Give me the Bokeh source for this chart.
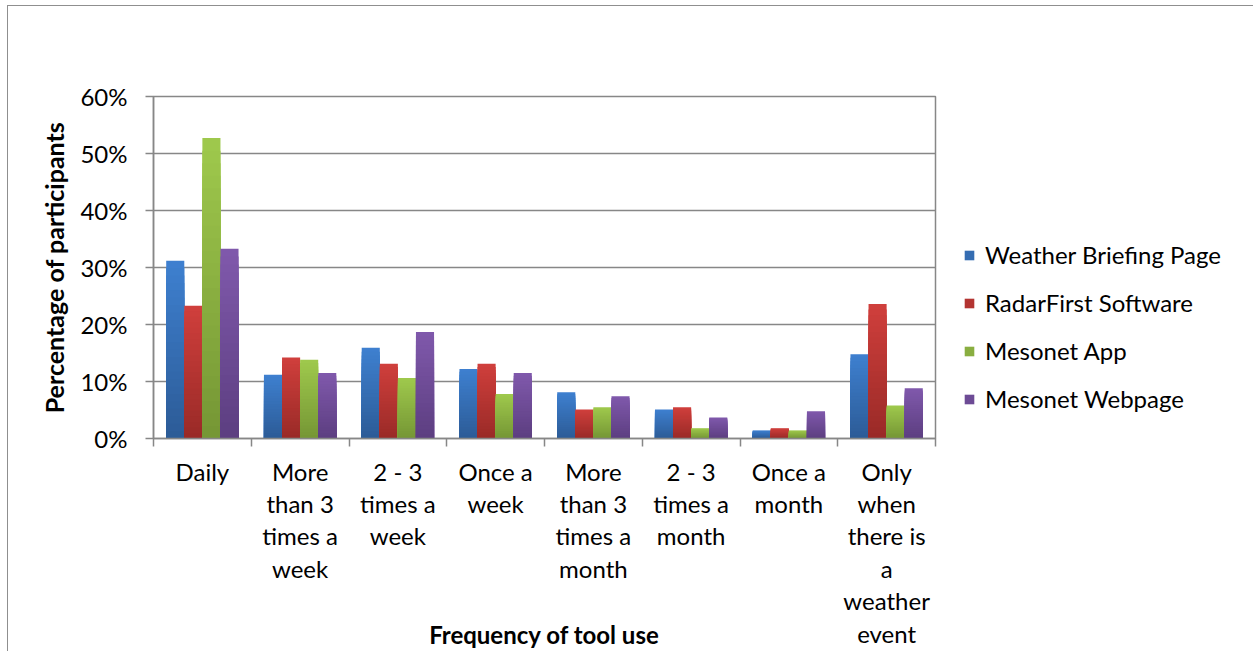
from bokeh.plotting import figure
from bokeh.models import (ColumnDataSource, FixedTicker, NumeralTickFormatter,
                          Legend, LegendItem, Range1d)
from bokeh.embed import file_html
from bokeh.resources import INLINE

# ---- data ----
categories = ["Daily", "More\nthan 3\ntimes a\nweek", "2 - 3\ntimes a\nweek",
              "Once a\nweek", "More\nthan 3\ntimes a\nmonth", "2 - 3\ntimes a\nmonth",
              "Once a\nmonth", "Only\nwhen\nthere is\na\nweather\nevent"]
series_names = ["Weather Briefing Page", "RadarFirst Software", "Mesonet App", "Mesonet Webpage"]
weather_briefing = [0.312, 0.112, 0.159, 0.122, 0.081, 0.051, 0.014, 0.148]
radarfirst = [0.233, 0.142, 0.131, 0.131, 0.051, 0.055, 0.018, 0.236]
mesonet_app = [0.527, 0.138, 0.106, 0.078, 0.055, 0.018, 0.014, 0.058]
mesonet_web = [0.333, 0.115, 0.187, 0.115, 0.074, 0.037, 0.048, 0.088]
y_ticks = [0, 0.1, 0.2, 0.3, 0.4, 0.5, 0.6]

series_values = [weather_briefing, radarfirst, mesonet_app, mesonet_web]
top_colors = ["#3E80D0", "#D03F3C", "#9FC94C", "#8059AC"]
bottom_colors = ["#2C5B96", "#992A27", "#759635", "#5C3E80"]

FONT = "Lato"
FS = "24px"
TITLE_FS = "25px"
TXT = "#000000"
GRAY = "#878787"

n_cat = len(categories)
p = figure(frame_width=782, frame_height=342, output_backend="svg", toolbar_location=None,
           x_range=Range1d(0, n_cat), y_range=Range1d(0, 0.6),
           min_border_left=145, min_border_top=90, min_border_bottom=205, min_border_right=300)
p.background_fill_color = "white"
p.border_fill_color = "white"
p.outline_line_color = GRAY
p.outline_line_width = 1.5
p.styles = {"margin-left": "7px", "margin-top": "5px",
            "border-top": "1px solid #8f8f8f", "border-left": "1px solid #8f8f8f"}

def hex2rgb(h):
    h = h.lstrip("#")
    return [int(h[i:i + 2], 16) for i in (0, 2, 4)]

def mix(c1, c2, t):
    a, b = hex2rgb(c1), hex2rgb(c2)
    return "#%02x%02x%02x" % tuple(int(round(a[i] + (b[i] - a[i]) * t)) for i in range(3))

N = 24
bar_w = 0.185
items = []
for s, (name, vals) in enumerate(zip(series_names, series_values)):
    off = (s - 1.5) * bar_w
    xs, tops, cols = [], [], []
    for i, v in enumerate(vals):
        # tallest (lightest) layer first, shorter darker layers on top -> vertical gradient
        for k in range(N):
            frac = (N - k) / N
            xs.append(i + 0.5 + off)
            tops.append(v * frac)
            cols.append(mix(bottom_colors[s], top_colors[s], frac - 0.5 / N))
    src = ColumnDataSource(dict(x=xs, top=tops, color=cols))
    r = p.vbar(x="x", bottom=0, top="top", width=bar_w, source=src,
               fill_color="color", line_color=None)
    items.append(LegendItem(label=name, renderers=[r], index=N // 2))

# axes
p.xgrid.visible = False
p.ygrid.grid_line_color = GRAY
p.ygrid.grid_line_width = 1.5
p.ygrid.ticker = FixedTicker(ticks=y_ticks)

yax = p.yaxis[0]
yax.ticker = FixedTicker(ticks=y_ticks, minor_ticks=[])
yax.formatter = NumeralTickFormatter(format="0%")
yax.axis_line_color = GRAY
yax.axis_line_width = 1.5
yax.major_tick_line_color = GRAY
yax.major_tick_line_width = 1.5
yax.major_tick_out = 8
yax.major_tick_in = 0
yax.minor_tick_line_color = None
yax.major_label_standoff = 18
yax.major_label_text_font = FONT
yax.major_label_text_font_size = FS
yax.major_label_text_color = TXT
yax.axis_label = "Percentage of participants"
yax.axis_label_text_font = FONT
yax.axis_label_text_font_size = TITLE_FS
yax.axis_label_text_font_style = "bold"
yax.axis_label_text_color = TXT
yax.axis_label_standoff = 8

xax = p.xaxis[0]
centers = [i + 0.5 for i in range(n_cat)]
xax.ticker = FixedTicker(ticks=centers, minor_ticks=list(range(n_cat + 1)))
xax.major_label_overrides = {c: lab for c, lab in zip(centers, categories)}
xax.axis_line_color = GRAY
xax.axis_line_width = 1.5
xax.major_tick_line_color = None
xax.major_tick_out = 0
xax.major_tick_in = 0
xax.minor_tick_line_color = GRAY
xax.minor_tick_line_width = 1.5
xax.minor_tick_out = 8
xax.minor_tick_in = 0
xax.major_label_standoff = 10
xax.major_label_text_font = FONT
xax.major_label_text_font_size = FS
xax.major_label_text_color = TXT
xax.major_label_text_line_height = 1.12
xax.major_label_orientation = "horizontal"
xax.axis_label = "Frequency of tool use"
xax.axis_label_text_font = FONT
xax.axis_label_text_font_size = FS
xax.axis_label_text_font_style = "bold"
xax.axis_label_text_color = TXT
xax.axis_label_standoff = -31

legend = Legend(items=items, location=(28, 25), orientation="vertical",
                label_text_font=FONT, label_text_font_size=FS, label_text_color=TXT,
                glyph_width=12, glyph_height=12, label_height=24, spacing=19,
                label_standoff=10, padding=0, margin=0, border_line_color=None,
                background_fill_alpha=0)
p.add_layout(legend, "right")

open("out.html", "w").write(file_html(p, INLINE))
